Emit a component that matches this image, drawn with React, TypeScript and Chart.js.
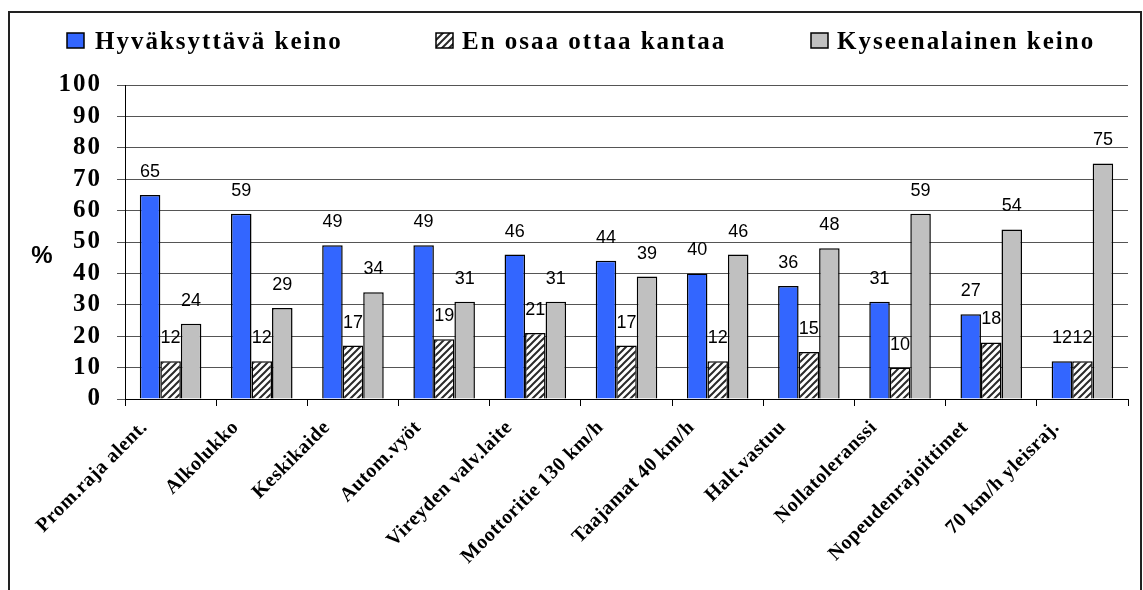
import React, { useEffect, useRef } from 'react';
import { Chart, registerables } from 'chart.js';

Chart.register(...registerables);

const categories = [
  'Prom.raja alent.',
  'Alkolukko',
  'Keskikaide',
  'Autom.vyöt',
  'Vireyden valv.laite',
  'Moottoritie 130 km/h',
  'Taajamat 40 km/h',
  'Halt.vastuu',
  'Nollatoleranssi',
  'Nopeudenrajoittimet',
  '70 km/h yleisraj.',
];
const seriesNames = ['Hyväksyttävä keino', 'En osaa ottaa kantaa', 'Kyseenalainen keino'];
const acceptable = [65, 59, 49, 49, 46, 44, 40, 36, 31, 27, 12];
const cannotSay = [12, 12, 17, 19, 21, 17, 12, 15, 10, 18, 12];
const questionable = [24, 29, 34, 31, 31, 39, 46, 48, 59, 54, 75];
const yMin = 0;
const yMax = 100;
const yStep = 10;
const yTitle = '%';

const BLUE = '#3366FF';
const GRAY = '#C0C0C0';
const SERIF = '"Liberation Serif", "Times New Roman", serif';
const SANS = '"Liberation Sans", Arial, sans-serif';

function makeHatch(): CanvasPattern | string {
  const s = 7;
  const c = document.createElement('canvas');
  c.width = s;
  c.height = s;
  const g = c.getContext('2d');
  if (!g) return '#fff';
  g.fillStyle = '#ffffff';
  g.fillRect(0, 0, s, s);
  g.strokeStyle = '#2a2a2a';
  g.lineWidth = 2;
  g.beginPath();
  g.moveTo(0, s);
  g.lineTo(s, 0);
  g.moveTo(-1, 1);
  g.lineTo(1, -1);
  g.moveTo(s - 1, s + 1);
  g.lineTo(s + 1, s - 1);
  g.stroke();
  const p = g.createPattern(c, 'repeat');
  return p || '#fff';
}

export default function App() {
  const canvasRef = useRef<HTMLCanvasElement | null>(null);

  useEffect(() => {
    const canvas = canvasRef.current;
    if (!canvas) return;
    const hatch = makeHatch();
    const fills = [BLUE, hatch, GRAY];

    const spacingPlugin = {
      id: 'spacing',
      beforeDraw(chart: any) {
        (chart.ctx as any).letterSpacing = '2px';
      },
      afterDatasetsDraw(chart: any) {
        const ctx = chart.ctx;
        // data labels
        ctx.save();
        (ctx as any).letterSpacing = '0px';
        ctx.font = `18px ${SANS}`;
        ctx.fillStyle = '#000';
        ctx.textAlign = 'center';
        ctx.textBaseline = 'middle';
        chart.data.datasets.forEach((ds: any, di: number) => {
          const meta = chart.getDatasetMeta(di);
          meta.data.forEach((el: any, i: number) => {
            ctx.fillText(String(ds.data[i]), el.x, el.y - 23);
          });
        });
        ctx.restore();
        (ctx as any).letterSpacing = '0.5px';
      },
      afterDraw(chart: any) {
        const ctx = chart.ctx;
        (ctx as any).letterSpacing = '0px';
        // y title "%"
        ctx.save();
        ctx.font = `bold 24px ${SANS}`;
        ctx.fillStyle = '#000';
        ctx.textAlign = 'center';
        ctx.textBaseline = 'middle';
        ctx.fillText(yTitle, 42, 256);
        ctx.restore();
        // legend
        const items = [
          { bx: 67, tx: 95 },
          { bx: 436, tx: 462 },
          { bx: 811, tx: 837 },
        ];
        ctx.save();
        (ctx as any).letterSpacing = '2px';
        ctx.font = `bold 25px ${SERIF}`;
        ctx.textAlign = 'left';
        ctx.textBaseline = 'alphabetic';
        items.forEach((it, i) => {
          ctx.fillStyle = fills[i] as any;
          ctx.fillRect(it.bx, 33, 17, 15);
          ctx.lineWidth = 1.5;
          ctx.strokeStyle = '#000';
          ctx.strokeRect(it.bx, 33, 17, 15);
          ctx.fillStyle = '#000';
          ctx.fillText(seriesNames[i], it.tx, 49);
        });
        ctx.restore();
        (ctx as any).letterSpacing = '0px';
      },
    };

    const chart = new Chart(canvas, {
      type: 'bar',
      data: {
        labels: categories,
        datasets: [
          { label: seriesNames[0], data: acceptable, backgroundColor: BLUE },
          { label: seriesNames[1], data: cannotSay, backgroundColor: hatch as any },
          { label: seriesNames[2], data: questionable, backgroundColor: GRAY },
        ].map((d) => ({
          ...d,
          borderColor: '#000',
          borderWidth: 1.5,
          barPercentage: 1,
          categoryPercentage: 0.675,
        })),
      },
      options: {
        animation: false,
        responsive: true,
        maintainAspectRatio: false,
        layout: { padding: { top: 85, right: 15, left: 0, bottom: 0 } },
        plugins: {
          legend: { display: false },
          tooltip: { enabled: false },
          title: { display: false },
        },
        scales: {
          x: {
            offset: true,
            grid: {
              offset: true,
              drawOnChartArea: true,
              drawTicks: true,
              tickLength: 7,
              tickColor: '#000',
              color: (c: any) => (c.index === categories.length ? '#777' : 'rgba(0,0,0,0)'),
            },
            border: { display: true, color: '#000', width: 1 },
            ticks: {
              z: 1,
              autoSkip: false,
              maxRotation: 45,
              minRotation: 45,
              labelOffset: -26,
              padding: 10,
              color: '#000',
              font: { family: SERIF, size: 20, weight: 'bold' },
            },
            afterFit: (scale: any) => {
              scale.height = 191;
            },
          },
          y: {
            min: yMin,
            max: yMax,
            grid: {
              color: '#555',
              lineWidth: 1,
              tickLength: 8,
              tickColor: '#555',
            },
            border: { display: true, color: '#000', width: 1 },
            ticks: {
              stepSize: yStep,
              autoSkip: false,
              padding: 15,
              color: '#000',
              font: { family: SERIF, size: 25, weight: 'bold' },
            },
            afterFit: (scale: any) => {
              scale.width = 125;
            },
          },
        },
      },
      plugins: [spacingPlugin],
    });
    return () => chart.destroy();
  }, []);

  return (
    <div style={{ position: 'fixed', left: 0, top: 0, width: 1143, height: 590, background: '#fff', overflow: 'hidden' }}>
      <div
        style={{
          position: 'absolute',
          left: 8,
          top: 11,
          width: 1134,
          height: 620,
          border: '2px solid #222',
          boxSizing: 'border-box',
        }}
      />
      <div style={{ position: 'absolute', left: 0, top: 0, width: 1143, height: 590 }}>
        <canvas ref={canvasRef} />
      </div>
    </div>
  );
}
